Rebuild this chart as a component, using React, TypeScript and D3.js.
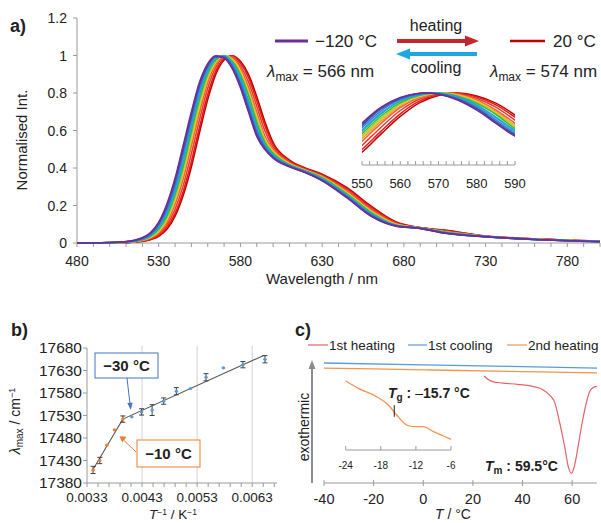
import React from "react";
import * as d3 from "d3";

const FONT = "'Liberation Sans', Arial, Helvetica, sans-serif";
const TXT = "#222";
const AX = "#9a9a9a";

// ---------------- Panel a: temperature-dependent emission spectra ----------------
const spectraTemps = [20, 10, 0, -10, -20, -30, -40, -50, -60, -70, -80, -90, -100, -110, -120];
const spectraColors = [
  "#c00000", "#dd1c1c", "#ee3b30", "#f4603a", "#f78b2a", "#fbb829", "#efd92c", "#a5cf3a",
  "#3fb54a", "#18b39a", "#22a9dd", "#2f85cf", "#3d5fbb", "#5048a8", "#6a2f9a",
];
const wavelengthsNm = [480, 505, 515, 525, 530, 535, 540, 545, 550, 555, 560, 565, 570, 575, 580, 585, 590, 595, 600, 610, 620, 630, 645, 660, 675, 690, 705, 730, 760, 800];
const intP20 = [0, 0.001, 0.0045, 0.018, 0.036, 0.073, 0.143, 0.255, 0.407, 0.591, 0.766, 0.902, 0.976, 0.999, 0.969, 0.898, 0.78, 0.645, 0.536, 0.442, 0.399, 0.367, 0.296, 0.196, 0.113, 0.082, 0.069, 0.037, 0.022, 0.009];
const intP10 = [0, 0.001, 0.005, 0.02, 0.04, 0.083, 0.158, 0.275, 0.435, 0.619, 0.792, 0.918, 0.983, 0.998, 0.96, 0.882, 0.759, 0.625, 0.525, 0.438, 0.396, 0.363, 0.291, 0.191, 0.11, 0.081, 0.067, 0.037, 0.022, 0.009];
const intZero = [0, 0.002, 0.006, 0.024, 0.047, 0.096, 0.18, 0.306, 0.476, 0.658, 0.825, 0.938, 0.991, 0.994, 0.945, 0.858, 0.729, 0.598, 0.511, 0.433, 0.392, 0.359, 0.283, 0.183, 0.107, 0.08, 0.064, 0.036, 0.021, 0.009];
const intM10 = [0, 0.002, 0.007, 0.028, 0.055, 0.11, 0.205, 0.342, 0.518, 0.696, 0.855, 0.954, 0.997, 0.988, 0.931, 0.83, 0.699, 0.57, 0.499, 0.427, 0.389, 0.355, 0.276, 0.176, 0.103, 0.08, 0.061, 0.036, 0.021, 0.009];
const intM20 = [0, 0.002, 0.008, 0.03, 0.06, 0.12, 0.223, 0.365, 0.544, 0.721, 0.873, 0.963, 0.998, 0.982, 0.921, 0.813, 0.679, 0.556, 0.492, 0.424, 0.387, 0.353, 0.271, 0.171, 0.101, 0.08, 0.06, 0.035, 0.02, 0.009];
const intM30 = [0, 0.002, 0.008, 0.03, 0.062, 0.126, 0.23, 0.375, 0.555, 0.731, 0.88, 0.966, 0.999, 0.979, 0.916, 0.805, 0.671, 0.551, 0.489, 0.422, 0.386, 0.352, 0.269, 0.169, 0.1, 0.08, 0.059, 0.035, 0.02, 0.008];
const intM40 = [0, 0.002, 0.008, 0.032, 0.064, 0.131, 0.238, 0.385, 0.566, 0.742, 0.888, 0.969, 1.0, 0.976, 0.912, 0.798, 0.663, 0.547, 0.486, 0.421, 0.385, 0.35, 0.267, 0.167, 0.099, 0.079, 0.059, 0.035, 0.02, 0.008];
const intM50 = [0, 0.003, 0.008, 0.033, 0.066, 0.134, 0.243, 0.391, 0.574, 0.749, 0.892, 0.971, 1.0, 0.974, 0.908, 0.793, 0.658, 0.544, 0.484, 0.42, 0.385, 0.35, 0.266, 0.166, 0.098, 0.079, 0.058, 0.035, 0.02, 0.008];
const intM60 = [0, 0.003, 0.009, 0.036, 0.074, 0.145, 0.258, 0.41, 0.595, 0.77, 0.904, 0.977, 0.999, 0.968, 0.896, 0.785, 0.643, 0.535, 0.478, 0.417, 0.383, 0.348, 0.262, 0.162, 0.096, 0.079, 0.058, 0.035, 0.02, 0.008];
const intM70 = [0, 0.003, 0.01, 0.041, 0.083, 0.158, 0.275, 0.435, 0.619, 0.792, 0.918, 0.983, 0.998, 0.96, 0.882, 0.759, 0.625, 0.525, 0.471, 0.415, 0.382, 0.343, 0.257, 0.157, 0.094, 0.079, 0.056, 0.034, 0.019, 0.008];
const intM80 = [0, 0.003, 0.01, 0.042, 0.086, 0.164, 0.283, 0.446, 0.63, 0.801, 0.924, 0.985, 0.998, 0.958, 0.876, 0.751, 0.618, 0.518, 0.468, 0.414, 0.381, 0.342, 0.255, 0.155, 0.094, 0.079, 0.056, 0.034, 0.019, 0.008];
const intM90 = [0, 0.004, 0.011, 0.046, 0.095, 0.178, 0.303, 0.473, 0.654, 0.822, 0.936, 0.991, 0.995, 0.948, 0.86, 0.732, 0.6, 0.513, 0.462, 0.411, 0.379, 0.338, 0.251, 0.151, 0.093, 0.079, 0.054, 0.034, 0.019, 0.008];
const intM100 = [0, 0.004, 0.013, 0.05, 0.103, 0.19, 0.323, 0.495, 0.675, 0.84, 0.945, 0.995, 0.991, 0.94, 0.845, 0.715, 0.585, 0.505, 0.458, 0.409, 0.376, 0.335, 0.247, 0.147, 0.092, 0.078, 0.053, 0.034, 0.019, 0.008];
const intM110 = [0, 0.004, 0.013, 0.052, 0.106, 0.198, 0.332, 0.506, 0.686, 0.848, 0.95, 0.996, 0.989, 0.936, 0.838, 0.707, 0.578, 0.502, 0.455, 0.408, 0.375, 0.334, 0.245, 0.145, 0.091, 0.078, 0.053, 0.033, 0.019, 0.007];
const intM120 = [0, 0.004, 0.014, 0.055, 0.111, 0.208, 0.345, 0.521, 0.7, 0.858, 0.956, 0.998, 0.987, 0.93, 0.828, 0.697, 0.568, 0.498, 0.452, 0.406, 0.374, 0.332, 0.242, 0.142, 0.09, 0.078, 0.052, 0.033, 0.019, 0.007];
const spectraIntensities = [intP20, intP10, intZero, intM10, intM20, intM30, intM40, intM50, intM60, intM70, intM80, intM90, intM100, intM110, intM120];

const aXLabels = [480, 530, 580, 630, 680, 730, 780];
const aYLabels = [0, 0.2, 0.4, 0.6, 0.8, 1, 1.2];
const insetXLabels = [550, 560, 570, 580, 590];

// ---------------- Panel b: lambda_max vs 1/T ----------------
const invTemp = [0.003411, 0.003532, 0.003661, 0.0038, 0.003951, 0.004113, 0.00429, 0.004482, 0.004692, 0.004923, 0.005179, 0.005461, 0.005777, 0.006131, 0.006532];
const lambdaMaxWn = [17409, 17430, 17464, 17498, 17522, 17527, 17538, 17542, 17562, 17584, 17590, 17615, 17636, 17643, 17655];
const lambdaErr = [8, 7, 2, 2, 7, 1, 7, 12, 7, 8, 1, 8, 1, 7, 8];
const fitInvT = [0.00339, 0.00395, 0.00652];
const fitWn = [17406, 17522, 17664];
const bXLabels = [0.0033, 0.0043, 0.0053, 0.0063];
const bGrid = [0.0043, 0.0053, 0.0063];
const bYLabels = [17380, 17430, 17480, 17530, 17580, 17630, 17680];

// ---------------- Panel c: DSC ----------------
const dscLineT = [-40, 0, 40, 70];
const cooling1 = [10.0, 9.85, 9.7, 9.58];
const heating2 = [9.58, 9.43, 9.28, 9.17];
const heating1T = [24.5, 26, 28, 32, 38, 44, 48, 51, 53, 55, 57, 58.5, 59.7, 61, 62.5, 64, 65.5, 67, 68.5, 70];
const heating1 = [8.92, 8.65, 8.45, 8.33, 8.22, 8.05, 7.8, 7.3, 6.7, 5.0, 3.0, 1.3, 0.8, 1.5, 3.2, 5.0, 6.5, 7.6, 7.95, 8.05];
const tgT = [-24.0, -21.85, -18.7, -16.7, -15.3, -13.6, -12.4, -10.7, -9.0, -7.3, -6.0];
const tgSignal = [8.63, 7.71, 6.66, 5.63, 4.38, 3.13, 2.91, 2.91, 2.29, 1.75, 1.34];
const tgValue = -15.7;
const cXLabels = [-40, -20, 0, 20, 40, 60];
const cInsetLabels = [-24, -18, -12, -6];

const C_RED = "#e8606a";
const C_BLUE = "#5b9bd5";
const C_ORANGE = "#f4944f";

export default function App() {
  // ----- scales panel a
  const xA = d3.scaleLinear().domain([480, 800]).range([77, 600]);
  const yA = d3.scaleLinear().domain([0, 1.2]).range([243, 18]);
  const lineA = d3
    .line<[number, number]>()
    .x((d) => xA(d[0]))
    .y((d) => yA(d[1]))
    .curve(d3.curveMonotoneX);

  const xI = d3.scaleLinear().domain([550, 590]).range([362, 515]);
  const yI = d3.scaleLinear().domain([0.28, 1.0]).range([165, 93]);
  const lineI = d3
    .line<[number, number]>()
    .x((d) => xI(d[0]))
    .y((d) => yI(d[1]))
    .curve(d3.curveCatmullRom.alpha(0.5));

  const series = spectraIntensities.map((arr) =>
    wavelengthsNm.map((w, i) => [w, arr[i]] as [number, number])
  );

  // ----- scales panel b
  const xB = d3.scaleLinear().domain([0.0033, 0.00675]).range([87, 277]);
  const yB = d3.scaleLinear().domain([17380, 17680]).range([483, 348]);
  const bMinor = d3.range(0, 18).map((i) => 0.0033 + i * 0.0002);
  const fitLine = d3
    .line<number>()
    .x((d, i) => xB(fitInvT[i]))
    .y((d) => yB(d));

  // ----- scales panel c
  const xC = d3.scaleLinear().domain([-40, 70]).range([324, 597]);
  const yC = d3.scaleLinear().domain([0, 10]).range([483, 363]);
  const lineC = (ts: number[], vs: number[]) =>
    d3
      .line<number>()
      .x((d, i) => xC(ts[i]))
      .y((d) => yC(d))
      .curve(d3.curveMonotoneX)(vs) || "";
  const xCI = d3.scaleLinear().domain([-24, -6]).range([345.7, 451]);
  const yCI = d3.scaleLinear().domain([0, 10]).range([450, 370]);
  const tgLine =
    d3
      .line<number>()
      .x((d, i) => xCI(tgT[i]))
      .y((d) => yCI(d))
      .curve(d3.curveMonotoneX)(tgSignal) || "";

  const fmtA = (v: number) => String(+v.toFixed(1));

  return (
    <svg
      width={601}
      height={523}
      viewBox="0 0 601 523"
      style={{ position: "absolute", left: 0, top: 0, background: "#fff" }}
      fontFamily={FONT}
    >
      <rect x={0} y={0} width={601} height={523} fill="#fff" />
      <defs>
        <clipPath id="insetClip">
          <rect x={xI(550)} y={80} width={xI(590) - xI(550)} height={90} />
        </clipPath>
        <clipPath id="mainClip">
          <rect x={77} y={10} width={524} height={234} />
        </clipPath>
      </defs>

      {/* ================= Panel a ================= */}
      <text x={10} y={32} fontSize={18} fontWeight="bold" fill={TXT}>a)</text>
      <line x1={77} x2={77} y1={yA(1.2)} y2={yA(0)} stroke={AX} strokeWidth={1} />
      <line x1={77} x2={600} y1={yA(0)} y2={yA(0)} stroke={AX} strokeWidth={1} />
      {aYLabels.map((v) => (
        <g key={"ay" + v}>
          <line x1={73} x2={77} y1={yA(v)} y2={yA(v)} stroke={AX} />
          <text x={67} y={yA(v) + 5} fontSize={14} textAnchor="end" fill={TXT}>{fmtA(v)}</text>
        </g>
      ))}
      {d3.range(480, 801, 10).map((v) => (
        <line key={"axm" + v} x1={xA(v)} x2={xA(v)} y1={yA(0)} y2={yA(0) + 4} stroke={AX} />
      ))}
      {aXLabels.map((v) => (
        <text key={"axl" + v} x={xA(v)} y={266} fontSize={14} textAnchor="middle" fill={TXT}>{v}</text>
      ))}
      <text x={322} y={284} fontSize={15} textAnchor="middle" fill={TXT}>Wavelength / nm</text>
      <text transform="translate(27,140) rotate(-90)" fontSize={15} textAnchor="middle" fill={TXT}>Normalised Int.</text>

      <g clipPath="url(#mainClip)">
        {series.map((s, k) => (
          <path key={"sp" + k} d={lineA(s) || ""} fill="none" stroke={spectraColors[k]} strokeWidth={1.6} />
        ))}
      </g>

      <g clipPath="url(#insetClip)">
        {series.map((s, k) => (
          <path
            key={"in" + k}
            d={lineI(s.filter((p) => p[0] >= 540 && p[0] <= 600)) || ""}
            fill="none"
            stroke={spectraColors[k]}
            strokeWidth={1.5}
          />
        ))}
      </g>
      <line x1={xI(550)} x2={xI(590)} y1={165} y2={165} stroke={AX} />
      {d3.range(550, 591, 2).map((v) => (
        <line key={"it" + v} x1={xI(v)} x2={xI(v)} y1={165} y2={161} stroke={AX} />
      ))}
      {insetXLabels.map((v) => (
        <text key={"il" + v} x={xI(v)} y={188} fontSize={13} textAnchor="middle" fill={TXT}>{v}</text>
      ))}

      <line x1={275} x2={308} y1={41} y2={41} stroke={spectraColors[14]} strokeWidth={3} />
      <text x={315} y={47} fontSize={17} fill={TXT}>{"\u2212120 \u00B0C"}</text>
      <line x1={510} x2={545} y1={41} y2={41} stroke={spectraColors[0]} strokeWidth={2.5} />
      <text x={553} y={47} fontSize={17} fill={TXT}>{"20 \u00B0C"}</text>
      <text x={436} y={31} fontSize={16} textAnchor="middle" fill={TXT}>heating</text>
      <line x1={397} x2={467} y1={41} y2={41} stroke="#c1272d" strokeWidth={4} />
      <path d="M465,35.5 L479,41 L465,46.5 Z" fill="#c1272d" />
      <line x1={408} x2={477} y1={54} y2={54} stroke="#1ca7e0" strokeWidth={4} />
      <path d="M410,48.5 L396,54 L410,59.5 Z" fill="#1ca7e0" />
      <text x={436} y={73} fontSize={16} textAnchor="middle" fill={TXT}>cooling</text>
      <text x={267} y={77} fontSize={17} fill={TXT}>
        <tspan fontStyle="italic">λ</tspan>
        <tspan fontSize={12} dy={4}>max</tspan>
        <tspan dy={-4}> = 566 nm</tspan>
      </text>
      <text x={490} y={77} fontSize={17} fill={TXT}>
        <tspan fontStyle="italic">λ</tspan>
        <tspan fontSize={12} dy={4}>max</tspan>
        <tspan dy={-4}> = 574 nm</tspan>
      </text>

      {/* ================= Panel b ================= */}
      <text x={11} y={336} fontSize={18} fontWeight="bold" fill={TXT}>b)</text>
      {bGrid.map((v) => (
        <line key={"bg" + v} x1={xB(v)} x2={xB(v)} y1={yB(17680) - 2} y2={yB(17380)} stroke="#d9d9d9" strokeWidth={1.2} />
      ))}
      <line x1={87} x2={87} y1={yB(17680)} y2={yB(17380)} stroke={AX} />
      <line x1={87} x2={277} y1={yB(17380)} y2={yB(17380)} stroke={AX} />
      {bYLabels.map((v) => (
        <g key={"by" + v}>
          <line x1={83} x2={87} y1={yB(v)} y2={yB(v)} stroke={AX} />
          <text x={82} y={yB(v) + 5} fontSize={15.5} textAnchor="end" fill={TXT}>{v}</text>
        </g>
      ))}
      {bMinor.map((v, i) => (
        <line key={"bm" + i} x1={xB(v)} x2={xB(v)} y1={483} y2={487} stroke={AX} />
      ))}
      {bXLabels.map((v) => (
        <text key={"bx" + v} x={xB(v)} y={502} fontSize={13.5} textAnchor="middle" fill={TXT}>{v.toFixed(4)}</text>
      ))}
      <text x={173} y={519} fontSize={13.5} textAnchor="middle" fill={TXT}>
        <tspan fontStyle="italic">T</tspan>
        <tspan fontSize={8.5} dy={-4}>{"\u22121"}</tspan>
        <tspan dy={4}> / K</tspan>
        <tspan fontSize={8.5} dy={-4}>{"\u22121"}</tspan>
      </text>
      <text transform="translate(20,421) rotate(-90)" fontSize={14} textAnchor="middle" fill={TXT}>
        <tspan fontStyle="italic">λ</tspan>
        <tspan fontSize={10} dy={3}>max</tspan>
        <tspan dy={-3}> / cm</tspan>
        <tspan fontSize={9} dy={-5}>{"\u22121"}</tspan>
      </text>
      <path d={fitLine(fitWn) || ""} fill="none" stroke="#595959" strokeWidth={1.1} />
      {invTemp.map((x, i) => {
        const cx = xB(x);
        const col = i < 5 ? "#ed7d31" : C_BLUE;
        const e = lambdaErr[i];
        return (
          <g key={"bp" + i}>
            {e > 2 && (
              <g stroke="#404040" strokeWidth={1}>
                <line x1={cx} x2={cx} y1={yB(lambdaMaxWn[i] - e)} y2={yB(lambdaMaxWn[i] + e)} />
                <line x1={cx - 2.5} x2={cx + 2.5} y1={yB(lambdaMaxWn[i] - e)} y2={yB(lambdaMaxWn[i] - e)} />
                <line x1={cx - 2.5} x2={cx + 2.5} y1={yB(lambdaMaxWn[i] + e)} y2={yB(lambdaMaxWn[i] + e)} />
              </g>
            )}
            <ellipse cx={cx} cy={yB(lambdaMaxWn[i])} rx={1.8} ry={1.6} fill={col} />
          </g>
        );
      })}
      <rect x={95} y={353} width={63} height={25} fill="#fff" stroke="#4472c4" strokeWidth={1} />
      <text x={126.5} y={371} fontSize={15} fontWeight="bold" textAnchor="middle" fill={TXT}>{"\u221230 \u00B0C"}</text>
      <line x1={127} y1={378} x2={130} y2={404} stroke="#4472c4" strokeWidth={1} />
      <path d="M127.3,403 L130.8,410 L132.6,402.4 Z" fill="#4472c4" />
      <rect x={137} y={440} width={63} height={27} fill="#fff" stroke="#ed7d31" strokeWidth={1} />
      <text x={168.5} y={459} fontSize={15} fontWeight="bold" textAnchor="middle" fill={TXT}>{"\u221210 \u00B0C"}</text>
      <line x1={136} y1={452} x2={124} y2={440.5} stroke="#ed7d31" strokeWidth={1} />
      <path d="M126.5,436.8 L119.5,436.2 L122.2,442.6 Z" fill="#ed7d31" />

      {/* ================= Panel c ================= */}
      <text x={295} y={336} fontSize={18} fontWeight="bold" fill={TXT}>c)</text>
      <line x1={308} x2={328} y1={345} y2={345} stroke={C_RED} strokeWidth={1.2} />
      <text x={329} y={350} fontSize={13.5} fill={TXT}>1st heating</text>
      <line x1={408} x2={427} y1={345} y2={345} stroke={C_BLUE} strokeWidth={1.2} />
      <text x={428} y={350} fontSize={13.5} fill={TXT}>1st cooling</text>
      <line x1={507} x2={527} y1={345} y2={345} stroke={C_ORANGE} strokeWidth={1.2} />
      <text x={528} y={350} fontSize={13.5} fill={TXT}>2nd heating</text>
      <line x1={312} x2={312} y1={483} y2={368} stroke="#8c8c8c" strokeWidth={2} />
      <path d="M308.5,369 L312,360 L315.5,369 Z" fill="#8c8c8c" />
      <text transform="translate(309,427) rotate(-90)" fontSize={14} textAnchor="middle" fill={TXT}>exothermic</text>
      <line x1={xC(-40)} x2={xC(70)} y1={483} y2={483} stroke={AX} />
      {cXLabels.map((v) => (
        <g key={"cx" + v}>
          <line x1={xC(v)} x2={xC(v)} y1={480} y2={486} stroke={AX} />
          <text x={xC(v)} y={504} fontSize={14.5} textAnchor="middle" fill={TXT}>{v}</text>
        </g>
      ))}
      <text x={453} y={519} fontSize={14} textAnchor="middle" fill={TXT}>
        <tspan fontStyle="italic">T</tspan>
        <tspan> / °C</tspan>
      </text>
      <path d={lineC(dscLineT, cooling1)} fill="none" stroke={C_BLUE} strokeWidth={1.3} />
      <path d={lineC(dscLineT, heating2)} fill="none" stroke={C_ORANGE} strokeWidth={1.3} />
      <path d={lineC(heating1T, heating1)} fill="none" stroke={C_RED} strokeWidth={1.2} />
      <path d={tgLine} fill="none" stroke={C_ORANGE} strokeWidth={1.3} />
      <line x1={xCI(tgValue)} x2={xCI(tgValue)} y1={yCI(5.6)} y2={yCI(4.15)} stroke="#222" strokeWidth={1} />
      <line x1={xCI(-24)} x2={xCI(-6)} y1={450} y2={450} stroke={AX} />
      {cInsetLabels.map((v) => (
        <g key={"ci" + v}>
          <line x1={xCI(v)} x2={xCI(v)} y1={450} y2={446} stroke={AX} />
          <text x={xCI(v)} y={469} fontSize={10} textAnchor="middle" fill={TXT}>{v}</text>
        </g>
      ))}
      <text x={388} y={398} fontSize={14} fontWeight="bold" fill={TXT}>
        <tspan fontStyle="italic">T</tspan>
        <tspan fontSize={10} dy={3}>g</tspan>
        <tspan dy={-3}> : </tspan>
        <tspan fontWeight="normal">{"\u2013"}</tspan>
        <tspan>15.7 °C</tspan>
      </text>
      <text x={485} y={471} fontSize={14} fontWeight="bold" fill={TXT}>
        <tspan fontStyle="italic">T</tspan>
        <tspan fontSize={10} dy={3}>m</tspan>
        <tspan dy={-3}> : 59.5°C</tspan>
      </text>
    </svg>
  );
}
